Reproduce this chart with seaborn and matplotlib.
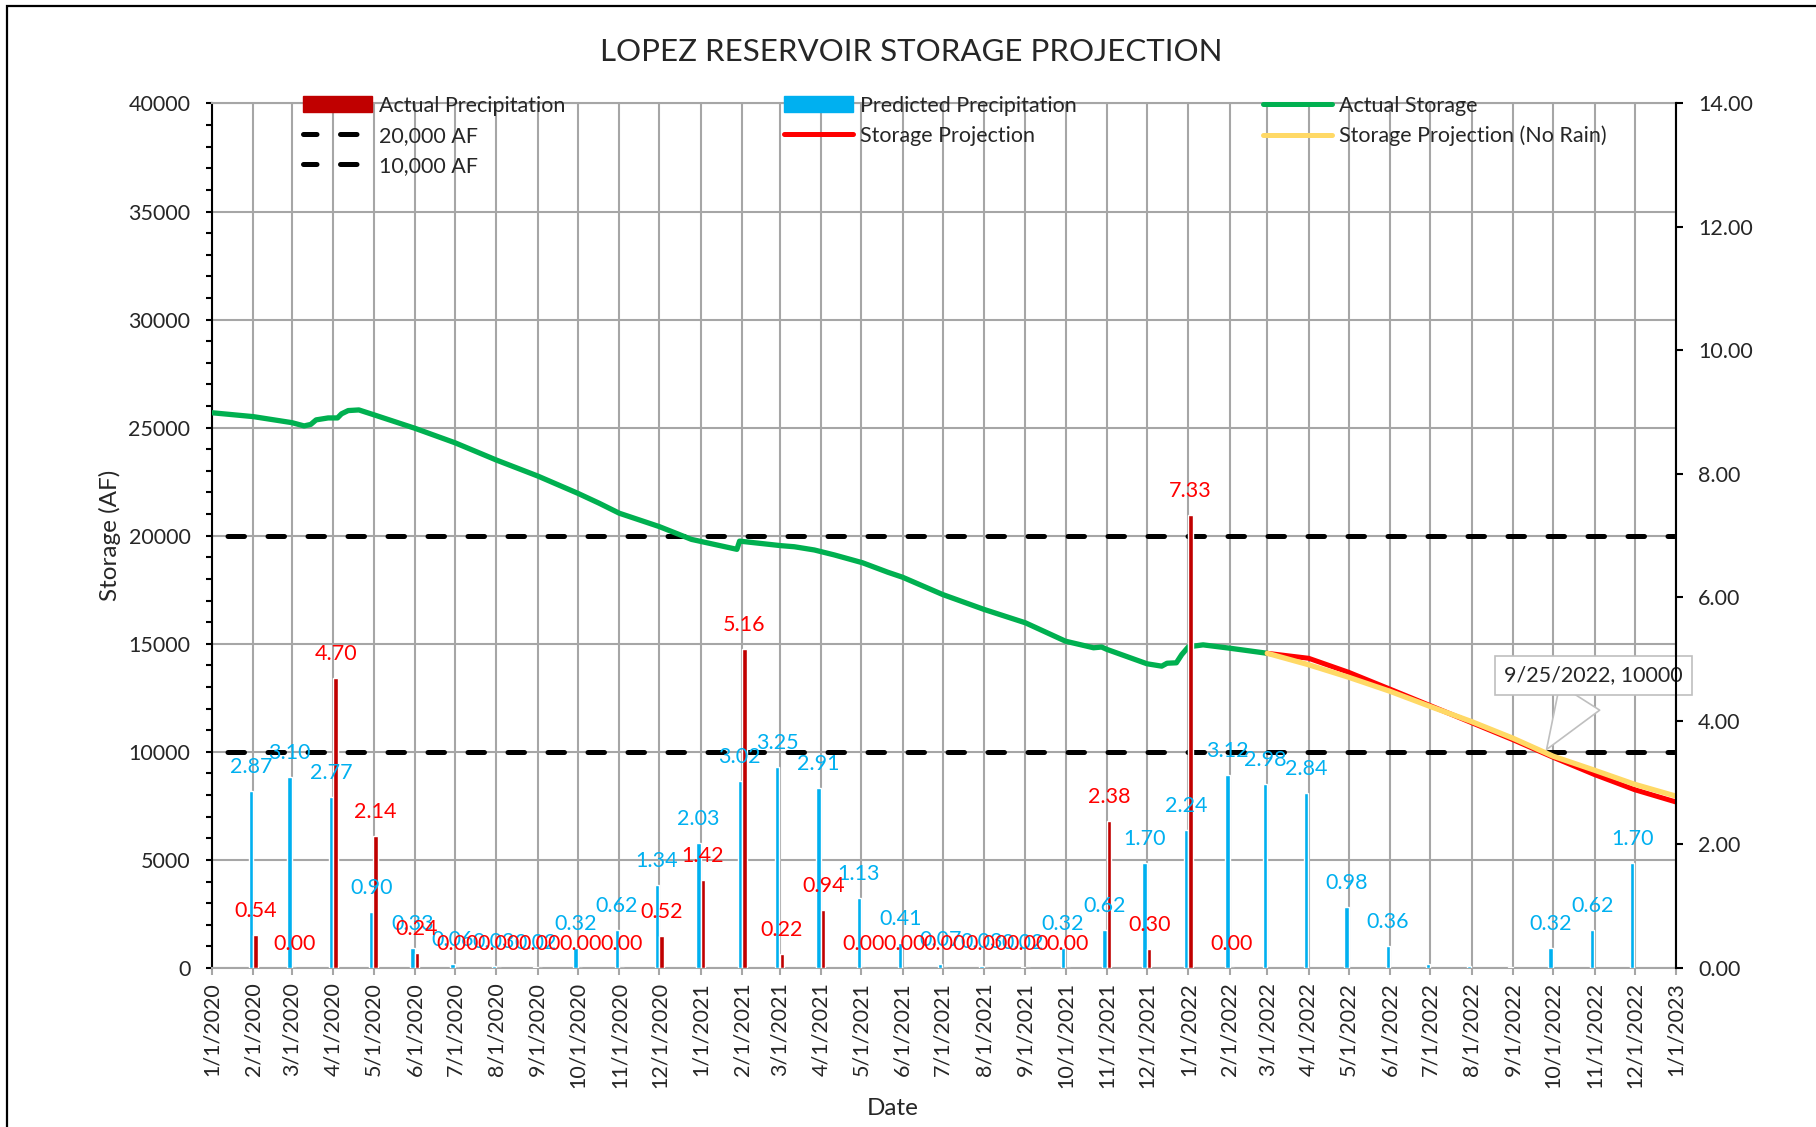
import numpy as np
import pandas as pd
import matplotlib
matplotlib.use("Agg")
import matplotlib.pyplot as plt
import matplotlib.dates as mdates
from matplotlib.ticker import MultipleLocator, FuncFormatter, FormatStrFormatter
from matplotlib.patches import Rectangle, Patch
from matplotlib.lines import Line2D
import seaborn as sns

# actual storage (AF)
storage_dates = pd.to_datetime([
    "2020-01-01", "2020-02-01", "2020-03-01", "2020-03-10", "2020-03-15", "2020-03-19",
    "2020-03-28", "2020-04-04", "2020-04-07", "2020-04-12", "2020-04-20", "2020-05-01",
    "2020-06-01", "2020-07-01", "2020-08-01", "2020-09-01", "2020-10-01", "2020-10-17",
    "2020-11-01", "2020-12-01", "2020-12-25", "2021-01-28", "2021-01-30", "2021-03-02",
    "2021-03-12", "2021-03-27", "2021-04-11", "2021-05-02", "2021-05-21", "2021-06-01",
    "2021-07-01", "2021-08-01", "2021-09-01", "2021-10-01", "2021-10-22", "2021-10-28",
    "2021-11-01", "2021-12-01", "2021-12-12", "2021-12-16", "2021-12-23", "2021-12-27",
    "2022-01-01", "2022-01-12", "2022-02-01", "2022-03-01"])
storage_af = [
    25690, 25510, 25230, 25080, 25150, 25360,
    25450, 25450, 25640, 25790, 25820, 25600,
    24970, 24300, 23500, 22760, 21960, 21500,
    21040, 20420, 19830, 19370, 19750, 19540,
    19490, 19340, 19110, 18750, 18310, 18080,
    17280, 16590, 15970, 15120, 14815, 14850,
    14740, 14075, 13965, 14100, 14120, 14500,
    14860, 14950, 14795, 14560]

# projections
proj_dates = pd.date_range("2022-03-01", "2023-01-01", freq="MS")
proj_af = [14560, 14330, 13680, 12900, 12140, 11350, 10560, 9750, 8950, 8250, 7680]
proj_norain_af = [14560, 14030, 13450, 12800, 12100, 11400, 10630, 9800, 9150, 8500, 7950]

# monthly precipitation (in)
pred_dates = pd.date_range("2020-02-01", "2022-12-01", freq="MS")
predicted_in = [2.87, 3.10, 2.77, 0.90, 0.33, 0.06, 0.03, 0.02, 0.32, 0.62, 1.34,
                2.03, 3.02, 3.25, 2.91, 1.13, 0.41, 0.07, 0.03, 0.02, 0.32, 0.62, 1.70,
                2.24, 3.12, 2.98, 2.84, 0.98, 0.36, 0.07, 0.03, 0.02, 0.32, 0.62, 1.70]
pred_labels = ["2.87", "3.10", "2.77", "0.90", "0.33", "0.06", "0.03", "0.02", "0.32", "0.62", "1.34",
               "2.03", "3.02", "3.25", "2.91", "1.13", "0.41", "0.07", "0.03", "0.02", "0.32", "0.62", "1.70",
               "2.24", "3.12", "2.98", "2.84", "0.98", "0.36", "", "", "", "0.32", "0.62", "1.70"]
actual_dates = pd.date_range("2020-02-01", "2022-02-01", freq="MS")
actual_in = [0.54, 0.00, 4.70, 2.14, 0.24, 0.00, 0.00, 0.00, 0.00, 0.00, 0.52,
             1.42, 5.16, 0.22, 0.94, 0.00, 0.00, 0.00, 0.00, 0.00, 0.00, 2.38, 0.30,
             7.33, 0.00]

thresholds = [20000, 10000]
threshold_labels = ["20,000 AF", "10,000 AF"]
cross_date = pd.Timestamp("2022-09-25")
cross_af = 10000

c_actual = "#C00000"
c_pred = "#00B0F0"
c_label_red = "#FF0000"
c_green = "#00B050"
c_proj = "#FF0000"
c_norain = "#FFD966"
c_grid = "#A6A6A6"
fs = 15.5

sns.set_style("white")
plt.rcParams["font.family"] = ["Lato", "DejaVu Sans"]

fig = plt.figure(figsize=(18.16, 11.27), dpi=100)
ax = fig.add_axes([0.1167, 0.1411, 0.8062, 0.7671])

dash = (4.9, (3.3, 4.7))
for t in thresholds:
    ax.axhline(t, color="black", lw=3.6, linestyle=dash, dash_capstyle="round", zorder=2)

sns.lineplot(x=storage_dates, y=storage_af, ax=ax, color=c_green, lw=3.8, zorder=3)
sns.lineplot(x=proj_dates, y=proj_af, ax=ax, color=c_proj, lw=3.6, zorder=3)
sns.lineplot(x=proj_dates, y=proj_norain_af, ax=ax, color=c_norain, lw=3.8, zorder=4)

ax.set_xlim(pd.Timestamp("2020-01-01"), pd.Timestamp("2023-01-01"))
ax.set_ylim(0, 40000)
ax.yaxis.set_major_locator(MultipleLocator(5000))
ax.yaxis.set_minor_locator(MultipleLocator(1000))
ax.xaxis.set_major_locator(mdates.MonthLocator())
ax.xaxis.set_major_formatter(FuncFormatter(
    lambda v, p: f"{mdates.num2date(v).month}/{mdates.num2date(v).day}/{mdates.num2date(v).year}"))
ax.grid(True, which="major", color=c_grid, lw=1.5)
ax.tick_params(axis="y", which="both", direction="out", length=4.5, width=1.5, color="black",
               labelsize=fs, pad=11, left=True)
ax.tick_params(axis="x", which="major", direction="out", length=5, width=1.5, color=c_grid,
               labelsize=fs, pad=5, rotation=90, bottom=True)
ax.spines["left"].set_color("black")
ax.spines["left"].set_linewidth(1.5)
for s in ["top", "bottom", "right"]:
    ax.spines[s].set_color(c_grid)
    ax.spines[s].set_linewidth(1.5)
ax.set_ylabel("Storage (AF)", fontsize=17.5)
ax.yaxis.set_label_coords(-0.062, 0.5)
ax.set_xlabel("Date", fontsize=17.5)
ax.xaxis.set_label_coords(0.465, -0.15)

ax.annotate(f"{cross_date.month}/{cross_date.day}/{cross_date.year}, {cross_af}",
            xy=(cross_date, cross_af), xytext=(35, 55), textcoords="offset points",
            ha="center", va="center", fontsize=fs, zorder=6,
            bbox=dict(boxstyle="square,pad=0.42", fc="white", ec="#BFBFBF", lw=1.2),
            arrowprops=dict(arrowstyle="wedge,tail_width=2.2,shrink_factor=0.5",
                            fc="white", ec="#BFBFBF", lw=1.2))

# precipitation on the secondary axis
ax2 = ax.twinx()
xp = mdates.date2num(pred_dates) - 1.8
xa = mdates.date2num(actual_dates) + 1.6
ax2.bar(xp, predicted_in, width=3.3, color=c_pred, zorder=3)
ax2.bar(xa, actual_in, width=3.3, color=c_actual, zorder=3)
for x, v, s in zip(xp, predicted_in, pred_labels):
    if s:
        ax2.annotate(s, (x, v), xytext=(0, 17.3), textcoords="offset points",
                     ha="center", va="center", fontsize=fs, color=c_pred)
for x, v in zip(xa, actual_in):
    ax2.annotate(f"{v:.2f}", (x, v), xytext=(0, 17.3), textcoords="offset points",
                 ha="center", va="center", fontsize=fs, color=c_label_red)
ax2.set_ylim(0, 14)
ax2.yaxis.set_major_locator(MultipleLocator(2))
ax2.yaxis.set_major_formatter(FormatStrFormatter("%.2f"))
ax2.tick_params(axis="y", direction="out", length=5, width=1.5, color="black", labelsize=fs, pad=11)
for s in ["top", "bottom", "left"]:
    ax2.spines[s].set_visible(False)
ax2.spines["right"].set_color("black")
ax2.spines["right"].set_linewidth(1.5)
ax2.grid(False)

# legends (three columns as in Excel)
leg_kw = dict(loc="upper left", frameon=False, fontsize=fs, handlelength=3.2, handleheight=0.75,
              handletextpad=0.33, labelspacing=0.46, borderpad=0, borderaxespad=0)
dash_handle = dict(color="black", lw=3.6, linestyle=(0.6, (3.3, 4.7)), dash_capstyle="round")
col1 = [Patch(fc=c_actual, ec=c_actual)] + [Line2D([], [], **dash_handle) for _ in thresholds]
fig.legend(col1, ["Actual Precipitation"] + threshold_labels, bbox_to_anchor=(0.1668, 0.915), **leg_kw)
col2 = [Patch(fc=c_pred, ec=c_pred), Line2D([], [], color=c_proj, lw=3.6)]
fig.legend(col2, ["Predicted Precipitation", "Storage Projection"], bbox_to_anchor=(0.4317, 0.915), **leg_kw)
col3 = [Line2D([], [], color=c_green, lw=3.6), Line2D([], [], color=c_norain, lw=3.6)]
fig.legend(col3, ["Actual Storage", "Storage Projection (No Rain)"], bbox_to_anchor=(0.6955, 0.915), **leg_kw)

fig.text(0.502, 0.954, "LOPEZ RESERVOIR STORAGE PROJECTION", ha="center", va="center", fontsize=22.5)

# outer chart border
fig.patches.append(Rectangle((0.0039, -0.1), 1.2, 1.0947, transform=fig.transFigure,
                             fill=False, ec="black", lw=1.6))

fig.savefig("out.png", dpi=100)
